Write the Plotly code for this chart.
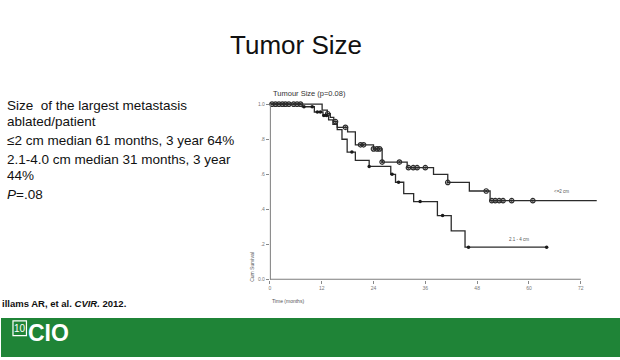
import plotly.graph_objects as go
import numpy as np

W, H = 620, 360

# ---------------- data ----------------
months_le2 = [0, 12.1, 13.3, 14.0, 14.8, 15.6, 18.0, 19.8, 24.0, 26.0, 31.8, 37.9, 41.2, 46.2, 51.0]
surv_le2 = [1.0, 0.966, 0.945, 0.925, 0.90, 0.868, 0.842, 0.768, 0.745, 0.67, 0.638, 0.60, 0.554, 0.505, 0.45]
last_le2 = 75.7
censor_le2 = [0.5, 1.3, 2.1, 2.9, 3.6, 4.4, 5.5, 6.3, 7.1, 13.4, 15.2, 17.5, 21.0, 21.7, 24.0, 24.8,
              25.4, 26.0, 30.0, 32.1, 33.2, 34.1, 36.0, 41.2, 50.1, 51.4, 52.2, 53.1, 54.0, 56.0, 60.9]

months_24 = [0, 7.5, 10.3, 12.3, 13.6, 14.6, 15.6, 16.7, 17.9, 19.8, 23.0, 28.0, 29.1, 31.0, 33.3, 38.8, 42.0, 45.2]
surv_24 = [1.0, 0.985, 0.955, 0.935, 0.91, 0.885, 0.855, 0.80, 0.727, 0.68, 0.645, 0.60, 0.555, 0.49, 0.445, 0.365, 0.278, 0.185]
last_24 = 64.1
censor_24 = [7.9, 9.8, 11.0, 11.7, 12.5, 13.1, 19.0, 23.0, 28.3, 29.8, 34.8, 40.0, 46.0, 64.1]

x_ticks = [0, 12, 24, 36, 48, 60, 72]
y_ticks = [0.0, 0.2, 0.4, 0.6, 0.8, 1.0]
y_ticklabels = ["0.0", ".2", ".4", ".6", ".8", "1.0"]

bullet_lines = [
    "Size  of the largest metastasis",
    "ablated/patient",
    "≤2 cm median 61 months, 3 year 64%",
    "2.1-4.0 cm median 31 months, 3 year",
    "44%",
    "<i>P</i>=.08",
]
bullet_y = [106.7, 122.5, 141.7, 160.7, 177.3, 196]


def px(x):
    return x / W


def py(y):
    return 1 - y / H


def step_level(months, surv, t):
    i = np.searchsorted(np.array(months), t, side="right") - 1
    return surv[i]


fig = go.Figure()

LINE = "#2b2b2b"

# curves
fig.add_trace(go.Scatter(x=months_le2 + [last_le2], y=surv_le2 + [surv_le2[-1]],
                         mode="lines", line=dict(color=LINE, width=1.3, shape="hv"),
                         showlegend=False, hoverinfo="skip"))
fig.add_trace(go.Scatter(x=months_24 + [last_24], y=surv_24 + [surv_24[-1]],
                         mode="lines", line=dict(color=LINE, width=1.3, shape="hv"),
                         showlegend=False, hoverinfo="skip"))
# censor marks
fig.add_trace(go.Scatter(x=censor_le2, y=[step_level(months_le2, surv_le2, t) for t in censor_le2],
                         mode="markers", marker=dict(symbol="circle-open-dot", size=4.5, color=LINE,
                                                     line=dict(width=1.2, color=LINE)),
                         showlegend=False, cliponaxis=False))
fig.add_trace(go.Scatter(x=censor_24, y=[step_level(months_24, surv_24, t) for t in censor_24],
                         mode="markers", marker=dict(symbol="circle", size=3.5, color="#1a1a1a"),
                         showlegend=False, cliponaxis=False))

x0, x72 = 269.3, 580.7
ppm = (x72 - x0) / 72
xr = [0, 76]
y_zero, y_one = 282.0, 105.0
ppu = y_zero - y_one
yr = [0, 1.02]

fig.update_layout(
    width=W, height=H,
    margin=dict(l=0, r=0, t=0, b=0),
    paper_bgcolor="white", plot_bgcolor="white",
    xaxis=dict(domain=[px(x0), px(x0 + xr[1] * ppm)], range=xr, showgrid=False, zeroline=False,
               showline=False, tickvals=x_ticks, ticktext=[str(v) for v in x_ticks],
               ticks="outside", ticklen=3, tickcolor="#888", tickwidth=1,
               tickfont=dict(size=5, color="#777", family="Liberation Sans")),
    yaxis=dict(domain=[py(y_zero), py(y_zero - yr[1] * ppu)], range=yr, showgrid=False, zeroline=False,
               showline=False, tickvals=y_ticks, ticktext=y_ticklabels,
               ticks="outside", ticklen=3, tickcolor="#888", tickwidth=1,
               tickfont=dict(size=5, color="#777", family="Liberation Sans")),
    font=dict(family="Liberation Sans"),
)

# axis lines
fig.add_shape(type="line", xref="x", yref="y", x0=0, x1=72, y0=0, y1=0,
              line=dict(color="#7d7d7d", width=2))
fig.add_shape(type="line", xref="x", yref="y", x0=0, x1=0, y0=0, y1=1.0,
              line=dict(color="#7d7d7d", width=2))

# footer band
fig.add_shape(type="rect", xref="paper", yref="paper", x0=0, x1=1, y0=0, y1=py(320.7),
              fillcolor="#1f8437", line=dict(width=0), layer="below")
# logo box
fig.add_shape(type="rect", xref="paper", yref="paper", x0=px(12), x1=px(25.5), y0=py(338.5), y1=py(323.5),
              line=dict(color="white", width=1.2), fillcolor="rgba(0,0,0,0)")

ann = []
ann.append(dict(x=px(295), y=py(45), text="Tumor Size", showarrow=False, xref="paper", yref="paper",
                font=dict(size=26, color="#111", family="Liberation Sans"), xanchor="center", yanchor="middle"))
for t, yy in zip(bullet_lines, bullet_y):
    ann.append(dict(x=px(4), y=py(yy), text=t, showarrow=False, xref="paper", yref="paper",
                    font=dict(size=13.5, color="#111", family="Liberation Sans"),
                    xanchor="left", yanchor="middle"))
ann.append(dict(x=px(-1), y=py(306.5), text="<b>illams AR, et al. <i>CVIR.</i> 2012.</b>", showarrow=False,
                xref="paper", yref="paper", font=dict(size=9.5, color="#111", family="Liberation Sans"),
                xanchor="left", yanchor="middle"))
ann.append(dict(x=px(270), y=py(94.5), text="Tumour Size (p=0.08)", showarrow=False, xref="paper", yref="paper",
                font=dict(size=7.5, color="#333", family="Liberation Sans"), xanchor="left", yanchor="middle"))
ann.append(dict(x=px(269), y=py(303.3), text="Time (months)", showarrow=False, xref="paper", yref="paper",
                font=dict(size=5, color="#555", family="Liberation Sans"), xanchor="left", yanchor="middle"))
ann.append(dict(x=px(251.5), y=py(269), text="Cum Survival", showarrow=False, xref="paper", yref="paper",
                textangle=-90, font=dict(size=5, color="#555", family="Liberation Sans"),
                xanchor="center", yanchor="middle"))
ann.append(dict(x=px(561.7), y=py(192.7), text="&lt;=2 cm", showarrow=False, xref="paper", yref="paper",
                font=dict(size=4.5, color="#555", family="Liberation Sans"), xanchor="center", yanchor="middle"))
ann.append(dict(x=px(519.3), y=py(241.7), text="2.1 - 4 cm", showarrow=False, xref="paper", yref="paper",
                font=dict(size=4.5, color="#555", family="Liberation Sans"), xanchor="center", yanchor="middle"))
# logo texts
ann.append(dict(x=px(18.8), y=py(331), text="10", showarrow=False, xref="paper", yref="paper",
                font=dict(size=10, color="white", family="Liberation Sans"), xanchor="center", yanchor="middle"))
ann.append(dict(x=px(25.5), y=py(336), text="<b>CIO</b>", showarrow=False, xref="paper", yref="paper",
                font=dict(size=23, color="white", family="Liberation Sans"), xanchor="left", yanchor="middle"))
fig.update_layout(annotations=ann)

fig.write_html("out.html", config={"displayModeBar": False},
               post_script="document.body.style.margin='0';document.body.style.overflow='hidden';")
